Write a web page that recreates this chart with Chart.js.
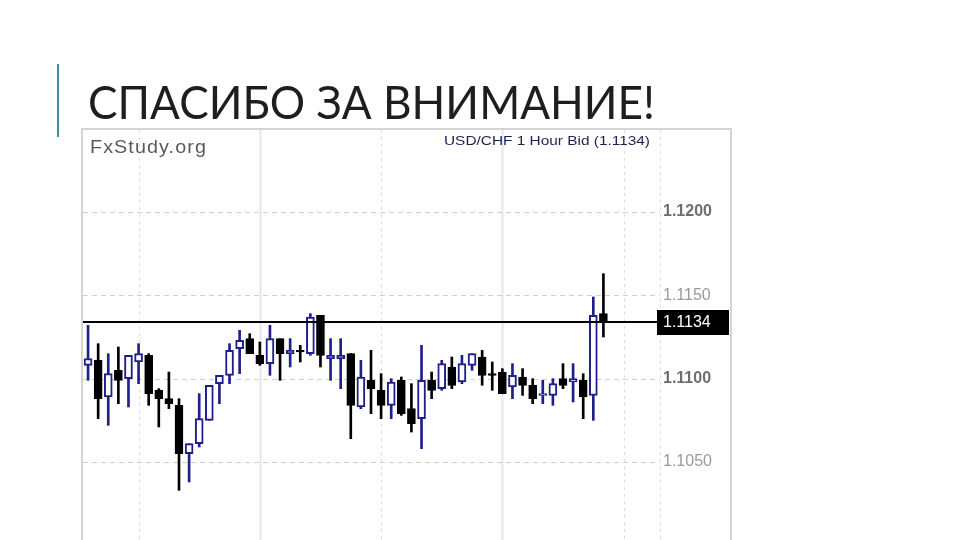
<!DOCTYPE html>
<html>
<head>
<meta charset="utf-8">
<script src="https://cdn.jsdelivr.net/npm/chart.js@4.4.1/dist/chart.umd.min.js"></script>
<style>
  html, body { margin: 0; padding: 0; background: #ffffff; width: 960px; height: 540px; overflow: hidden; }
  #wrap { position: relative; width: 960px; height: 540px; }
  canvas { position: absolute; left: 0; top: 0; }
  .txt { position: absolute; white-space: nowrap; transform-origin: left top; }
  #accent { position: absolute; left: 57px; top: 64px; width: 2px; height: 73px; background: #3a8fa3; }
  #title { left: 88px; top: 78px; font: 400 47px Lato, 'Open Sans', sans-serif; line-height: 47px; color: #1e1e1e; }
  #brand { left: 90px; top: 137px; font: 400 18px 'Liberation Sans', Arial, sans-serif; line-height: 20px; color: #5a5a5a; letter-spacing: 1px; }
  #pair { left: 444px; top: 133px; font: 400 13px 'Liberation Sans', Arial, sans-serif; line-height: 16px; color: #1c2250; }
</style>
</head>
<body>
<div id="wrap">
  <canvas id="c" width="960" height="540"></canvas>
  <div id="accent"></div>
  <div id="title" class="txt">СПАСИБО ЗА ВНИМАНИЕ!</div>
  <div id="brand" class="txt">FxStudy.org</div>
  <div id="pair" class="txt">USD/CHF 1 Hour Bid (1.1134)</div>
</div>
<script>
// ---- data (USD/CHF hourly candles) ----
const opens  = [1.1108,1.1111,1.1089,1.1105,1.1100,1.1110,1.1114,1.1093,1.1088,1.1084,
                1.1055,1.1061,1.1075,1.1097,1.1102,1.1118,1.1124,1.1114,1.1109,1.1124,
                1.1115,1.1117,1.1115,1.1138,1.1112,1.1112,1.1115,1.1083,1.1099,1.1093,
                1.1084,1.1099,1.1082,1.1076,1.1099,1.1094,1.1107,1.1098,1.1108,1.1113,
                1.1103,1.1104,1.1095,1.1101,1.1096,1.1090,1.1090,1.1100,1.1098,1.1099,
                1.1090,1.1139];
const highs  = [1.1132,1.1121,1.1115,1.1119,1.1114,1.1121,1.1115,1.1094,1.1104,1.1088,
                1.1061,1.1091,1.1096,1.1102,1.1121,1.1129,1.1127,1.1122,1.1132,1.1124,
                1.1124,1.1120,1.1139,1.1138,1.1124,1.1124,1.1115,1.1111,1.1117,1.1103,
                1.1100,1.1101,1.1097,1.1120,1.1104,1.1111,1.1113,1.1114,1.1115,1.1117,
                1.1110,1.1106,1.1109,1.1106,1.1100,1.1099,1.1100,1.1109,1.1109,1.1103,
                1.1149,1.1163];
const lows   = [1.1099,1.1076,1.1072,1.1085,1.1083,1.1097,1.1084,1.1071,1.1082,1.1033,
                1.1038,1.1059,1.1075,1.1085,1.1097,1.1103,1.1115,1.1108,1.1102,1.1099,
                1.1107,1.1110,1.1114,1.1107,1.1099,1.1094,1.1064,1.1082,1.1079,1.1076,
                1.1076,1.1078,1.1068,1.1058,1.1088,1.1093,1.1094,1.1097,1.1105,1.1096,
                1.1093,1.1091,1.1088,1.1090,1.1085,1.1085,1.1084,1.1094,1.1086,1.1076,
                1.1075,1.1125];
const closes = [1.1112,1.1088,1.1103,1.1099,1.1114,1.1115,1.1091,1.1088,1.1085,1.1055,
                1.1061,1.1076,1.1096,1.1102,1.1117,1.1123,1.1115,1.1109,1.1124,1.1115,
                1.1117,1.1116,1.1137,1.1114,1.1114,1.1114,1.1084,1.1101,1.1094,1.1084,
                1.1098,1.1079,1.1073,1.1099,1.1093,1.1109,1.1096,1.1109,1.1115,1.1102,
                1.1102,1.1091,1.1102,1.1096,1.1088,1.1091,1.1097,1.1096,1.1100,1.1089,
                1.1138,1.1134];
const yTicks = [1.1050, 1.1100, 1.1150, 1.1200];
const xGridAt = [5, 17, 29, 41, 53];
const lastPrice = 1.1134;

// ---- styles ----
const UP = '#1f1f8c', DOWN = '#000000';
const isUp = i => closes[i] >= opens[i];
const isMajor = v => Math.round(v * 10000) % 100 === 0;

const bodies = opens.map((o, i) => ({ x: i, y: [o, closes[i]] }));
const wicks  = lows.map((l, i) => ({ x: i, y: [l, highs[i]] }));

const fxPlugin = {
  id: 'fx',
  beforeDatasetsDraw(chart) {
    const { ctx, chartArea: a, scales: { x, y } } = chart;
    ctx.save();
    // panel frame
    ctx.strokeStyle = '#d4d4d4'; ctx.lineWidth = 2;
    ctx.beginPath();
    ctx.moveTo(a.left - 1, 540); ctx.lineTo(a.left - 1, a.top - 1); ctx.lineTo(731, a.top - 1); ctx.lineTo(731, 540);
    ctx.stroke();
    // vertical grid
    xGridAt.forEach((v, k) => {
      const px = Math.round(x.getPixelForValue(v));
      ctx.beginPath();
      if (k % 2 === 1) { ctx.setLineDash([]); ctx.strokeStyle = '#e6e6e6'; ctx.lineWidth = 2; }
      else { ctx.setLineDash([3, 4]); ctx.strokeStyle = '#dcdcdc'; ctx.lineWidth = 1; }
      ctx.moveTo(px + 0.5, a.top); ctx.lineTo(px + 0.5, a.bottom); ctx.stroke();
    });
    // axis separator
    ctx.setLineDash([3, 4]); ctx.strokeStyle = '#dcdcdc'; ctx.lineWidth = 1;
    ctx.beginPath(); ctx.moveTo(a.right + 0.5, a.top); ctx.lineTo(a.right + 0.5, a.bottom); ctx.stroke();
    // horizontal grid
    ctx.setLineDash([5, 4]); ctx.strokeStyle = '#cfcfcf';
    yTicks.forEach(v => {
      const py = Math.round(y.getPixelForValue(v)) + 0.5;
      ctx.beginPath(); ctx.moveTo(a.left, py); ctx.lineTo(a.right, py); ctx.stroke();
    });
    ctx.restore();
  },
  afterDatasetsDraw(chart) {
    const { ctx, chartArea: a, scales: { y } } = chart;
    const py = Math.round(y.getPixelForValue(lastPrice));
    ctx.save();
    ctx.fillStyle = '#000';
    ctx.fillRect(a.left, py - 1, a.right - a.left, 2);
    ctx.fillRect(a.right - 3, py - 12, 72, 25);
    ctx.fillStyle = '#fff';
    ctx.font = '16px "Liberation Sans", Arial, sans-serif';
    ctx.textAlign = 'left'; ctx.textBaseline = 'middle';
    ctx.fillText(lastPrice.toFixed(4), a.right + 3, py + 1);
    ctx.restore();
  }
};

// fit text widths to the picture
function fitWidth(id, w) {
  const el = document.getElementById(id);
  const r = el.getBoundingClientRect().width;
  if (r > 0) el.style.transform = 'scaleX(' + (w / r) + ')';
}
fitWidth('title', 567);
fitWidth('brand', 117);
fitWidth('pair', 206);

new Chart(document.getElementById('c'), {
  type: 'bar',
  data: {
    datasets: [
      {
        label: 'body', data: bodies, grouped: false, order: 0,
        barThickness: 8, borderSkipped: false, borderWidth: 2,
        backgroundColor: c => isUp(c.dataIndex) ? '#ffffff' : DOWN,
        borderColor: c => isUp(c.dataIndex) ? UP : DOWN
      },
      {
        label: 'wick', data: wicks, grouped: false, order: 1,
        barThickness: 2, borderWidth: 0, borderSkipped: false,
        backgroundColor: c => isUp(c.dataIndex) ? UP : DOWN
      }
    ]
  },
  options: {
    responsive: false,
    animation: false,
    layout: { padding: { left: 83, right: 230, top: 130, bottom: 0 } },
    plugins: { legend: { display: false }, tooltip: { enabled: false }, title: { display: false } },
    scales: {
      x: { type: 'linear', min: -0.5, max: 56.6, display: false, offset: false },
      y: {
        position: 'right', min: 1.10032, max: 1.12492,
        afterBuildTicks: s => { s.ticks = yTicks.map(v => ({ value: v })); },
        afterFit: s => { s.width = 70; s.paddingTop = 0; s.paddingBottom = 0; },
        grid: { display: false, drawTicks: false },
        border: { display: false },
        ticks: {
          padding: 3,
          callback: v => Number(v).toFixed(4),
          font: c => ({ family: "'Liberation Sans', Arial, sans-serif", size: 16,
                        weight: (c.tick && isMajor(c.tick.value)) ? 'bold' : 'normal' }),
          color: c => (c.tick && isMajor(c.tick.value)) ? '#6e6e6e' : '#9a9a9a'
        }
      }
    }
  },
  plugins: [fxPlugin]
});
</script>
</body>
</html>
